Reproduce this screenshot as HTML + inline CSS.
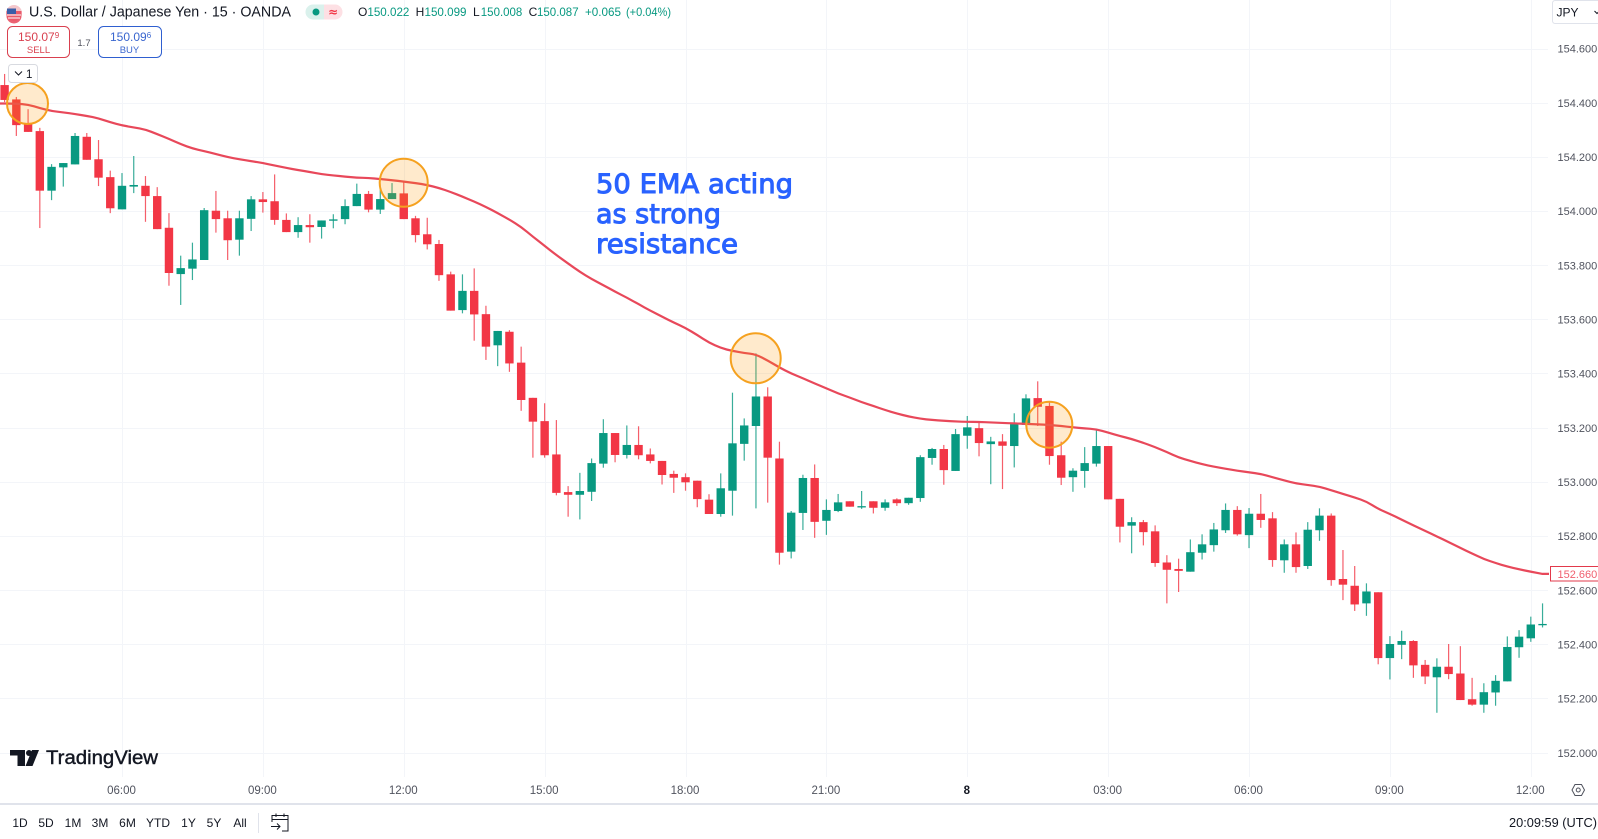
<!DOCTYPE html>
<html lang="en">
<head>
<meta charset="utf-8">
<title>USD/JPY 15m chart</title>
<style>
html,body{margin:0;padding:0;background:#fff;width:1598px;height:839px;overflow:hidden}
svg{display:block;font-family:"Liberation Sans",sans-serif}
text{white-space:pre}
</style>
</head>
<body>
<svg id="chart" xmlns="http://www.w3.org/2000/svg" width="1598" height="839" viewBox="0 0 1598 839">
  <rect width="1598" height="839" fill="#fff"/>
  <g id="grid"></g>
  <g id="candles"></g>
  <path id="emaLine" fill="none" stroke="#e8485a" stroke-width="2.2" stroke-linejoin="round"/>

  <g fill="#ff9800" fill-opacity="0.2" stroke="#f5a11f" stroke-width="2">
    <circle cx="27.5" cy="103.5" r="20.5"/>
    <circle cx="403.7" cy="182.7" r="24"/>
    <circle cx="755.7" cy="358.3" r="25"/>
    <circle cx="1049.3" cy="424.7" r="23"/>
  </g>

  <g fill="#2962ff" stroke="#2962ff" stroke-width="1" font-family="'DejaVu Sans',sans-serif" font-size="27">
    <text x="596" y="193" textLength="197" lengthAdjust="spacingAndGlyphs">50 EMA acting</text>
    <text x="596" y="223" textLength="125" lengthAdjust="spacingAndGlyphs">as strong</text>
    <text x="596" y="253" textLength="142" lengthAdjust="spacingAndGlyphs">resistance</text>
  </g>

  <!-- header -->
  <g>
    <circle cx="14" cy="13" r="8" fill="#f4c6cb"/>
    <path d="M6.5 11h15v5a7.5 7.5 0 0 1-15 0z" fill="#e8485a" opacity="0.85"/>
    <path d="M7 8.5h9v5.5H7z" fill="#3a5ea8"/>
    <path d="M7 15h14M8 18h12" stroke="#fff" stroke-width="1"/>
  </g>
  <text x="29" y="16.5" font-size="15" fill="#131722" textLength="262" lengthAdjust="spacingAndGlyphs">U.S. Dollar / Japanese Yen · 15 · OANDA</text>
  <g>
    <path d="M313 4.500h11v15h-11a7.500 7.500 0 0 1 0-15z" fill="#daf1ec"/>
    <path d="M324 4.500h11a7.500 7.500 0 0 1 0 15h-11z" fill="#fde0e4"/>
    <circle cx="316" cy="12" r="3.500" fill="#089981"/>
    <text x="333" y="16" font-size="12" fill="#f23645" text-anchor="middle" font-family="'DejaVu Sans',sans-serif" font-weight="bold">≈</text>
  </g>
  <g font-size="12" fill="#089981">
    <text x="358" y="16" fill="#131722">O</text>
    <text x="367.400" y="16" textLength="42" lengthAdjust="spacingAndGlyphs">150.022</text>
    <text x="415.600" y="16" fill="#131722">H</text>
    <text x="424.500" y="16" textLength="42" lengthAdjust="spacingAndGlyphs">150.099</text>
    <text x="473" y="16" fill="#131722">L</text>
    <text x="480.800" y="16" textLength="41.500" lengthAdjust="spacingAndGlyphs">150.008</text>
    <text x="528.600" y="16" fill="#131722">C</text>
    <text x="537" y="16" textLength="41.600" lengthAdjust="spacingAndGlyphs">150.087</text>
    <text x="585" y="16" textLength="36" lengthAdjust="spacingAndGlyphs">+0.065</text>
    <text x="626" y="16" textLength="45" lengthAdjust="spacingAndGlyphs">(+0.04%)</text>
  </g>

  <g>
    <rect x="7.500" y="26.500" width="62" height="31" rx="5" fill="#fff" stroke="#d9404f" stroke-width="1"/>
    <text x="18" y="41" font-size="12" fill="#d9404f">150.07<tspan font-size="8" dy="-3">9</tspan></text>
    <text x="38.500" y="53" font-size="9.500" fill="#d9404f" text-anchor="middle">SELL</text>
  </g>
  <text x="84" y="46" font-size="9.500" fill="#50535e" text-anchor="middle">1.7</text>
  <g>
    <rect x="98.500" y="26.500" width="63" height="31" rx="5" fill="#fff" stroke="#2f5fd0" stroke-width="1"/>
    <text x="110" y="41" font-size="12" fill="#3a66cf">150.09<tspan font-size="8" dy="-3">6</tspan></text>
    <text x="129.500" y="53" font-size="9.500" fill="#3a66cf" text-anchor="middle">BUY</text>
  </g>
  <g>
    <rect x="8.500" y="64.500" width="29" height="18" rx="3" fill="#fff" stroke="#d8dae0"/>
    <path d="M15 71.500l3.500 3.500 3.500-3.500" fill="none" stroke="#131722" stroke-width="1"/>
    <text x="26" y="78" font-size="11.500" fill="#131722">1</text>
  </g>

  <!-- right axis -->
  <g id="priceAxis"></g>
  <g>
    <path d="M1598 0.500h-43a2.500 2.500 0 0 0-2.500 2.500v18a2.500 2.500 0 0 0 2.500 2.500h43" fill="#fff" stroke="#e0e3eb"/>
    <text x="1556.500" y="16.500" font-size="12" fill="#131722">JPY</text>
    <path d="M1594.500 11l2.500 2.500 1.500-1.500" fill="none" stroke="#131722"/>
  </g>
  <g>
    <rect x="1550.500" y="566.500" width="48" height="14.500" fill="#fff" stroke="#e2394b"/>
    <text id="emaLabel" x="1557.500" y="578" font-size="11" fill="#f0606f"></text>
  </g>

  <!-- logo -->
  <g>
    <path d="M10 750h15v5.500h-0v10.500h-7.500v-10.500H10z" fill="#131722"/>
    <circle cx="29" cy="753" r="3" fill="#131722"/>
    <path d="M32 750h7l-6.500 16h-7z" fill="#131722"/>
    <text x="46" y="764" font-size="19" fill="#131722" stroke="#131722" stroke-width="0.4" textLength="112" lengthAdjust="spacingAndGlyphs">TradingView</text>
  </g>

  <!-- time axis -->
  <g id="timeAxis"></g>
  <g fill="none" stroke="#50535e" stroke-width="1">
    <path d="M1572 790l3-5.500h6.500l3 5.500-3 5.500h-6.500z"/>
    <circle cx="1578.250" cy="790" r="2"/>
  </g>
  <rect x="0" y="803" width="1598" height="2" fill="#e0e3eb"/>

  <!-- bottom toolbar -->
  <g font-size="12" fill="#131722" text-anchor="middle">
    <text x="20" y="827">1D</text>
    <text x="46" y="827">5D</text>
    <text x="73" y="827">1M</text>
    <text x="100" y="827">3M</text>
    <text x="127.500" y="827">6M</text>
    <text x="158" y="827">YTD</text>
    <text x="188.500" y="827">1Y</text>
    <text x="214" y="827">5Y</text>
    <text x="240" y="827">All</text>
  </g>
  <rect x="258" y="813" width="1" height="20" fill="#e0e3eb"/>
  <g fill="none" stroke="#131722" stroke-width="1">
    <path d="M272 822v-6.500h16v15.500h-6M272 819.500h16M276 813.500v3.500M284 813.500v3.500M271 826.500h9M277 823.500l3 3-3 3"/>
  </g>
  <text x="1597" y="827" font-size="12.500" fill="#131722" text-anchor="end" textLength="88" lengthAdjust="spacingAndGlyphs">20:09:59 (UTC)</text>
</svg>

<script>
const priceTicks = [154.6,154.4,154.2,154.0,153.8,153.6,153.4,153.2,153.0,152.8,152.6,152.4,152.2,152.0];
const timeLabels = ["06:00","09:00","12:00","15:00","18:00","21:00","8","03:00","06:00","09:00","12:00"];
const timeTickBars = [10,22,34,46,58,70,82,94,106,118,130];

const opens = [154.465,154.412,154.325,154.295,154.075,154.161,154.172,154.274,154.191,154.125,154.006,154.090,
154.093,154.055,153.938,153.767,153.787,153.819,154.001,153.973,153.894,153.971,154.043,154.036,
153.967,153.922,153.948,153.941,153.964,153.970,154.018,154.063,154.005,154.044,154.065,153.973,
153.914,153.878,153.766,153.634,153.705,153.619,153.504,153.554,153.440,153.310,153.224,153.101,
152.962,152.952,152.963,153.067,153.180,153.099,153.136,153.101,153.077,153.029,153.017,153.004,
152.934,152.881,152.967,153.140,153.206,153.315,153.086,152.742,152.885,153.014,152.856,152.892,
152.928,152.908,152.928,152.904,152.935,152.921,152.940,153.088,153.121,153.040,153.170,153.198,
153.139,153.149,153.132,153.210,153.309,153.280,153.098,153.017,153.040,153.067,153.132,152.937,
152.838,152.851,152.817,152.702,152.678,152.668,152.738,152.766,152.821,152.896,152.803,152.882,
152.865,152.710,152.769,152.689,152.821,152.875,152.641,152.616,152.551,152.592,152.349,152.398,
152.412,152.324,152.278,152.317,152.292,152.197,152.177,152.222,152.263,152.389,152.422,152.471];

const highs = [154.506,154.421,154.376,154.307,154.173,154.177,154.288,154.288,154.262,154.149,154.140,154.203,
154.129,154.088,153.992,153.835,153.883,154.011,154.074,154.001,154.001,154.055,154.070,154.135,
153.991,153.977,153.988,153.965,153.988,154.043,154.101,154.074,154.077,154.103,154.108,153.982,
153.975,153.893,153.776,153.766,153.788,153.650,153.557,153.560,153.499,153.310,153.290,153.228,
152.984,153.033,153.086,153.231,153.180,153.208,153.205,153.123,153.077,153.041,153.031,153.004,
152.954,153.031,153.329,153.234,153.474,153.349,153.148,152.892,153.026,153.064,152.935,152.955,
152.928,152.966,152.928,152.935,152.939,152.941,153.098,153.125,153.136,153.195,153.243,153.221,
153.166,153.176,153.253,153.323,153.371,153.297,153.148,153.050,153.128,153.194,153.132,152.937,
152.869,152.859,152.839,152.729,152.716,152.787,152.806,152.848,152.920,152.910,152.903,152.955,
152.888,152.787,152.813,152.851,152.902,152.883,152.748,152.689,152.625,152.592,152.430,152.450,
152.415,152.342,152.348,152.401,152.393,152.276,152.256,152.286,152.429,152.452,152.502,152.551];

const lows = [154.402,154.277,154.292,153.937,154.040,154.090,154.172,154.189,154.092,153.992,154.006,154.066,
153.960,153.933,153.724,153.653,153.745,153.819,153.920,153.819,153.835,153.926,153.994,153.949,
153.922,153.901,153.883,153.898,153.936,153.951,154.018,153.995,153.989,154.044,153.970,153.884,
153.858,153.742,153.632,153.622,153.521,153.450,153.427,153.406,153.262,153.089,153.089,152.950,
152.871,152.861,152.929,153.052,153.072,153.086,153.083,153.068,152.990,152.959,152.967,152.906,
152.881,152.871,152.875,153.078,152.902,152.923,152.694,152.717,152.822,152.793,152.804,152.888,
152.908,152.900,152.883,152.893,152.911,152.915,152.926,153.063,152.989,153.040,153.122,153.094,
152.991,152.973,153.053,153.206,153.206,153.063,152.988,152.963,152.978,153.056,152.935,152.776,
152.736,152.765,152.686,152.551,152.593,152.668,152.713,152.742,152.811,152.801,152.755,152.830,
152.686,152.664,152.664,152.678,152.782,152.616,152.563,152.523,152.505,152.326,152.270,152.345,
152.276,152.253,152.147,152.271,152.194,152.173,152.147,152.173,152.263,152.350,152.409,152.462];

const closes = [154.410,154.317,154.292,154.075,154.163,154.177,154.277,154.189,154.123,154.010,154.093,154.096,
154.055,153.933,153.771,153.789,153.821,154.003,153.970,153.892,153.973,154.043,154.033,153.967,
153.922,153.948,153.940,153.965,153.969,154.018,154.063,154.005,154.044,154.066,153.970,153.911,
153.877,153.763,153.632,153.705,153.618,153.499,153.557,153.437,153.302,153.222,153.098,152.959,
152.952,152.966,153.069,153.180,153.099,153.136,153.098,153.077,153.025,153.015,152.998,152.936,
152.881,152.976,153.142,153.208,153.315,153.089,152.738,152.886,153.014,152.852,152.896,152.924,
152.908,152.910,152.904,152.924,152.921,152.941,153.091,153.121,153.043,153.176,153.201,153.143,
153.149,153.133,153.213,153.308,153.277,153.095,153.015,153.041,153.069,153.132,152.935,152.834,
152.851,152.814,152.700,152.675,152.671,152.740,152.769,152.824,152.896,152.806,152.882,152.859,
152.711,152.769,152.685,152.823,152.875,152.637,152.620,152.547,152.595,152.349,152.401,152.412,
152.322,152.281,152.317,152.290,152.194,152.177,152.223,152.265,152.390,152.428,152.473,152.475];

const ema50 = [154.397,154.396,154.393,154.380,154.369,154.364,154.358,154.351,154.342,154.328,154.316,154.309,
154.301,154.284,154.266,154.247,154.231,154.221,154.210,154.199,154.191,154.184,154.177,154.168,
154.159,154.151,154.144,154.136,154.131,154.127,154.123,154.122,154.118,154.114,154.108,154.103,
154.096,154.085,154.070,154.053,154.035,154.015,153.992,153.968,153.941,153.905,153.871,153.837,
153.806,153.775,153.749,153.726,153.702,153.680,153.656,153.632,153.610,153.588,153.568,153.542,
153.514,153.494,153.483,153.476,153.470,153.448,153.422,153.400,153.382,153.363,153.345,153.326,
153.311,153.294,153.280,153.265,153.252,153.241,153.233,153.228,153.225,153.223,153.221,153.221,
153.219,153.217,153.216,153.214,153.212,153.210,153.206,153.201,153.197,153.194,153.182,153.169,
153.158,153.144,153.128,153.110,153.090,153.077,153.065,153.056,153.048,153.041,153.035,153.029,
153.017,153.005,152.994,152.988,152.982,152.969,152.955,152.942,152.927,152.900,152.881,152.860,
152.839,152.819,152.798,152.777,152.756,152.735,152.715,152.700,152.687,152.677,152.668,152.660];

const emaCurrentLabel = "152.660";

const NS = "http://www.w3.org/2000/svg";
function xAxis(i){ return 4.6 + 11.74 * i; }
function yAxis(p){ return 48.5 + (154.6 - p) * 270.8; }
const GREEN = "#089981", RED = "#f23645", GRID = "#f3f5f9";

const grid = document.getElementById("grid");
const priceAxis = document.getElementById("priceAxis");
const timeAxis = document.getElementById("timeAxis");
const candleLayer = document.getElementById("candles");

priceTicks.forEach(function(p){
  const y = Math.round(yAxis(p)) + 0.5;
  const line = document.createElementNS(NS, "line");
  line.setAttribute("x1", 0);
  line.setAttribute("x2", 1548);
  line.setAttribute("y1", y);
  line.setAttribute("y2", y);
  line.setAttribute("stroke", GRID);
  
  
  grid.appendChild(line);
  const t = document.createElementNS(NS, "text");
  t.setAttribute("x", 1557.5);
  t.setAttribute("y", yAxis(p) + 4.2);
  t.setAttribute("font-size", "11");
  t.setAttribute("fill", "#50535e");
  t.textContent = p.toFixed(3);
  
  
  priceAxis.appendChild(t);
});

timeTickBars.forEach(function(b, k){
  const x = Math.round(xAxis(b)) + 0.5;
  const line = document.createElementNS(NS, "line");
  line.setAttribute("x1", x);
  line.setAttribute("x2", x);
  line.setAttribute("y1", 0);
  line.setAttribute("y2", 777);
  line.setAttribute("stroke", GRID);
  
  
  grid.appendChild(line);
  const t = document.createElementNS(NS, "text");
  t.setAttribute("x", xAxis(b) - 0.5);
  t.setAttribute("y", 794);
  t.setAttribute("font-size", "11.5");
  t.setAttribute("fill", "#50535e");
  t.setAttribute("text-anchor", "middle");
  if (timeLabels[k] === "8") { t.setAttribute("font-weight", "bold"); t.setAttribute("fill", "#131722"); }
  t.textContent = timeLabels[k];
  
  
  timeAxis.appendChild(t);
});

opens.forEach(function(o, i){
  const c = closes[i];
  const color = c >= o ? GREEN : RED;
  const g = document.createElementNS(NS, "g");
  
  
  const w = document.createElementNS(NS, "line");
  w.setAttribute("x1", xAxis(i));
  w.setAttribute("x2", xAxis(i));
  w.setAttribute("y1", yAxis(highs[i]));
  w.setAttribute("y2", yAxis(lows[i]));
  w.setAttribute("stroke", color);
  w.setAttribute("stroke-width", "1.2");
  w.setAttribute("stroke-opacity", "0.8");
  
  
  g.appendChild(w);
  const r = document.createElementNS(NS, "rect");
  const top = yAxis(Math.max(o, c));
  const h = Math.max(1.3, yAxis(Math.min(o, c)) - top);
  r.setAttribute("x", xAxis(i) - 4.2);
  r.setAttribute("y", top);
  r.setAttribute("width", 8.4);
  r.setAttribute("height", h);
  r.setAttribute("fill", color);
  
  
  g.appendChild(r);
  candleLayer.appendChild(g);
});

let d = "M0 " + yAxis(ema50[0]).toFixed(1) + "L" + xAxis(0).toFixed(1) + " " + yAxis(ema50[0]).toFixed(1);
ema50.forEach(function(v, i){
  if (i === 0) return;
  const mx = (xAxis(i - 1) + xAxis(i)) / 2;
  const my = (yAxis(ema50[i - 1]) + yAxis(v)) / 2;
  d += "Q" + xAxis(i - 1).toFixed(1) + " " + yAxis(ema50[i - 1]).toFixed(1) + " " + mx.toFixed(1) + " " + my.toFixed(1);
});
d += "L" + xAxis(ema50.length - 1).toFixed(1) + " " + yAxis(ema50[ema50.length - 1]).toFixed(1);
d += "L1549 " + yAxis(ema50[ema50.length - 1]).toFixed(1);
document.getElementById("emaLine").setAttribute("d", d);
document.getElementById("emaLabel").textContent = emaCurrentLabel;
</script>
</body>
</html>
